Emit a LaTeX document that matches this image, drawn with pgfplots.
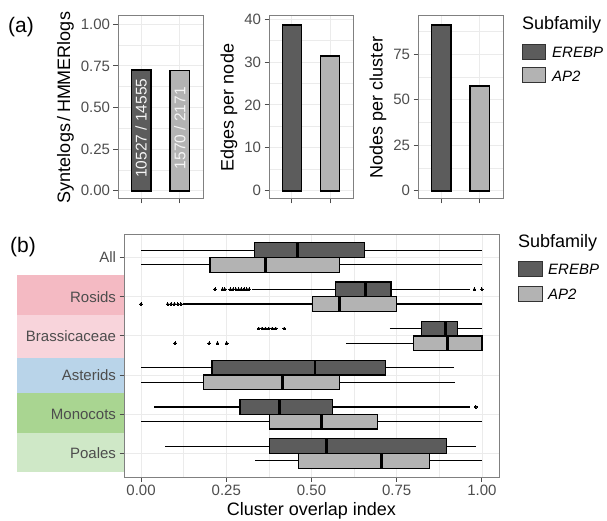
\documentclass[border=0pt]{standalone}
\usepackage{fontspec}
\setmainfont{Liberation Sans}
\usepackage{pgfplots}
\pgfplotsset{compat=1.18}
\usepgfplotslibrary{statistics}

\definecolor{erebp}{HTML}{5C5C5C}
\definecolor{ap2}{HTML}{B3B3B3}
\definecolor{gridc}{HTML}{EBEBEB}
\definecolor{framec}{HTML}{808080}
\definecolor{tickc}{HTML}{4D4D4D}
\definecolor{rosids}{HTML}{F4BAC3}
\definecolor{brassi}{HTML}{F8D4DB}
\definecolor{asterids}{HTML}{B9D4E9}
\definecolor{monocots}{HTML}{A9D591}
\definecolor{poales}{HTML}{CFE8C7}

\newcommand{\ticksz}{\fontsize{15bp}{18bp}\selectfont}
\newcommand{\titlesz}{\fontsize{18bp}{21bp}\selectfont}

\pgfplotsset{
  ggpanel/.style={
    scale only axis,
    axis line style={framec, line width=1bp},
    tick pos=left,
    tick align=outside,
    major tick length=4.5bp,
    minor tick length=0pt,
    every tick/.style={tickc, line width=1bp},
    grid=both,
    major grid style={gridc, line width=0.9bp},
    minor grid style={gridc, line width=0.45bp},
    tick label style={font=\ticksz, text=tickc},
    label style={font=\titlesz, text=black},
    /pgf/number format/assume math mode=true,
  },
  barpanel/.style={ggpanel, width=85bp, height=183bp,
    xmin=0.4, xmax=2.6, xtick={1,2}, xticklabel=\empty, minor xtick={}},
  gbar/.style={ybar, bar width=0.5, bar shift=0pt, draw=black, line width=1.7bp, fill=#1},
  gbox/.style={boxplot prepared={#1, box extend=0.375, whisker extend=0},
    draw=black, line width=1.2bp, mark=*, mark size=1.4bp,
    mark options={fill=black, draw=black, line width=0pt},
    boxplot/every median/.style={line width=2.8bp}},
}

\begin{document}
\begin{tikzpicture}
\useasboundingbox (0,0) rectangle (607bp,521bp);

% panel labels
\node[anchor=base west, font=\fontsize{21bp}{24bp}\selectfont, inner sep=0pt] at (8bp,488bp) {(a)};
\node[anchor=base west, font=\fontsize{21bp}{24bp}\selectfont, inner sep=0pt] at (10bp,268bp) {(b)};

% clade strips behind the category labels
\fill[rosids]   (17bp,206bp) rectangle (124bp,246bp);
\fill[brassi]   (17bp,163bp) rectangle (124bp,206bp);
\fill[asterids] (17bp,128bp) rectangle (124bp,163bp);
\fill[monocots] (17bp,88bp)  rectangle (124bp,128bp);
\fill[poales]   (17bp,49bp)  rectangle (124bp,88bp);

% (a) syntelog ratio
\begin{axis}[barpanel, at={(118bp,322bp)}, anchor=south west,
  ymin=-0.05, ymax=1.05, ytick={0,0.25,0.5,0.75,1},
  yticklabels={0.00,0.25,0.50,0.75,1.00},
  minor ytick={0.125,0.375,0.625,0.875},
  ylabel={Syntelogs\,/\,HMMERlogs}]
\addplot[gbar=erebp] coordinates {(1,0.7233)};
\addplot[gbar=ap2] coordinates {(2,0.7232)};
\node[rotate=90, text=white!92!gray, font=\fontsize{15.5bp}{18bp}\selectfont] at (axis cs:1,0.375) {10527 / 14555};
\node[rotate=90, text=white!92!gray, font=\fontsize{15.5bp}{18bp}\selectfont] at (axis cs:2,0.375) {1570 / 2171};
\end{axis}

% (a) edges per node
\begin{axis}[barpanel, at={(269bp,322bp)}, anchor=south west, width=84bp,
  ymin=-1.94, ymax=40.74, ytick={0,10,20,30,40},
  minor ytick={5,15,25,35},
  ylabel={Edges per node}]
\addplot[gbar=erebp] coordinates {(1,38.7)};
\addplot[gbar=ap2] coordinates {(2,31.4)};
\end{axis}

% (a) nodes per cluster
\begin{axis}[barpanel, at={(418bp,322bp)}, anchor=south west,
  ymin=-4.575, ymax=96.08, ytick={0,25,50,75},
  minor ytick={12.5,37.5,62.5,87.5},
  ylabel={Nodes per cluster}]
\addplot[gbar=erebp] coordinates {(1,91.3)};
\addplot[gbar=ap2] coordinates {(2,57.7)};
\end{axis}

% (b) cluster overlap
\begin{axis}[ggpanel, at={(124bp,44bp)}, anchor=south west,
  width=375bp, height=243bp,
  xmin=-0.05, xmax=1.05, xtick={0,0.25,0.5,0.75,1},
  xticklabels={0.00,0.25,0.50,0.75,1.00},
  minor xtick={0.125,0.375,0.625,0.875},
  y dir=reverse, ymin=0.4, ymax=6.6, ytick={1,2,3,4,5,6},
  yticklabels={All,Rosids,Brassicaceae,Asterids,Monocots,Poales},
  minor ytick={},
  xlabel={Cluster overlap index}]
% All
\addplot[gbox={draw position=0.8125, lower whisker=0, lower quartile=0.333, median=0.458, upper quartile=0.656, upper whisker=1.0}, fill=erebp] coordinates {};
\addplot[gbox={draw position=1.1875, lower whisker=0, lower quartile=0.202, median=0.365, upper quartile=0.583, upper whisker=1.0}, fill=ap2] coordinates {};
% Rosids
\addplot[gbox={draw position=1.8125, lower whisker=0.325, lower quartile=0.570, median=0.658, upper quartile=0.733, upper whisker=0.965}, fill=erebp]
  coordinates {(0,0.217) (0,0.239) (0,0.246) (0,0.262) (0,0.270) (0,0.278) (0,0.286) (0,0.294) (0,0.302) (0,0.310) (0,0.317) (0,0.978) (0,1.0)};
\addplot[gbox={draw position=2.1875, lower whisker=0.122, lower quartile=0.502, median=0.583, upper quartile=0.750, upper whisker=1.0}, fill=ap2]
  coordinates {(0,0.0) (0,0.078) (0,0.088) (0,0.098) (0,0.108) (0,0.117)};
% Brassicaceae
\addplot[gbox={draw position=2.8125, lower whisker=0.729, lower quartile=0.823, median=0.892, upper quartile=0.929, upper whisker=1.0}, fill=erebp]
  coordinates {(0,0.345) (0,0.355) (0,0.365) (0,0.375) (0,0.385) (0,0.395) (0,0.420)};
\addplot[gbox={draw position=3.1875, lower whisker=0.600, lower quartile=0.800, median=0.900, upper quartile=1.0, upper whisker=1.0}, fill=ap2]
  coordinates {(0,0.100) (0,0.200) (0,0.224) (0,0.251)};
% Asterids
\addplot[gbox={draw position=3.8125, lower whisker=0, lower quartile=0.208, median=0.510, upper quartile=0.718, upper whisker=0.918}, fill=erebp] coordinates {};
\addplot[gbox={draw position=4.1875, lower whisker=0, lower quartile=0.183, median=0.416, upper quartile=0.583, upper whisker=0.921}, fill=ap2] coordinates {};
% Monocots
\addplot[gbox={draw position=4.8125, lower whisker=0.039, lower quartile=0.290, median=0.407, upper quartile=0.562, upper whisker=0.965}, fill=erebp]
  coordinates {(0,0.982)};
\addplot[gbox={draw position=5.1875, lower whisker=0, lower quartile=0.376, median=0.529, upper quartile=0.694, upper whisker=1.0}, fill=ap2] coordinates {};
% Poales
\addplot[gbox={draw position=5.8125, lower whisker=0.071, lower quartile=0.376, median=0.544, upper quartile=0.897, upper whisker=0.982}, fill=erebp] coordinates {};
\addplot[gbox={draw position=6.1875, lower whisker=0.334, lower quartile=0.461, median=0.705, upper quartile=0.846, upper whisker=1.0}, fill=ap2] coordinates {};
\end{axis}

% legends
\node[anchor=base west, font=\titlesz, inner sep=0pt] at (522bp,491.5bp) {Subfamily};
\draw[fill=erebp, draw=black!80, line width=1bp] (522bp,461bp) rectangle (545bp,476bp);
\draw[fill=ap2, draw=black!80, line width=1bp] (522bp,438bp) rectangle (545bp,453bp);
\node[anchor=base west, font=\ticksz\itshape, inner sep=0pt] at (552bp,463.7bp) {EREBP};
\node[anchor=base west, font=\ticksz\itshape, inner sep=0pt] at (552bp,439.3bp) {AP2};

\node[anchor=base west, font=\titlesz, inner sep=0pt] at (518bp,273.7bp) {Subfamily};
\draw[fill=erebp, draw=black!80, line width=1bp] (518bp,244.3bp) rectangle (542bp,259.3bp);
\draw[fill=ap2, draw=black!80, line width=1bp] (518bp,219.3bp) rectangle (542bp,234.3bp);
\node[anchor=base west, font=\ticksz\itshape, inner sep=0pt] at (548bp,246bp) {EREBP};
\node[anchor=base west, font=\ticksz\itshape, inner sep=0pt] at (548bp,221bp) {AP2};
\end{tikzpicture}
\end{document}
